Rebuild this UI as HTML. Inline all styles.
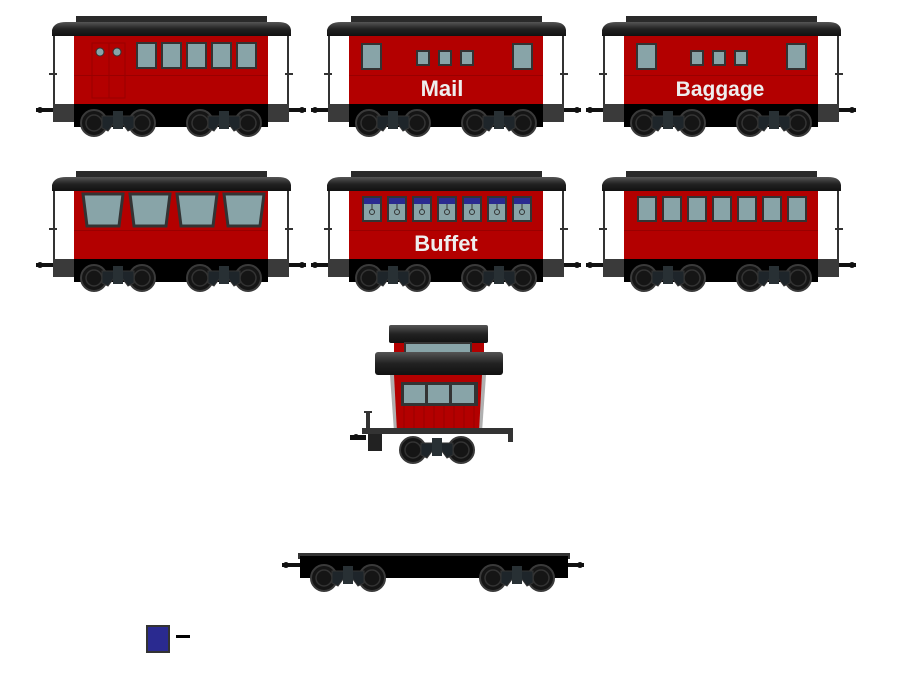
<!DOCTYPE html>
<html><head><style>html,body{margin:0;padding:0;background:#fff}svg{display:block}</style></head><body>
<svg width="900" height="689" viewBox="0 0 900 689" xmlns="http://www.w3.org/2000/svg">
<defs>
<linearGradient id="roof" x1="0" y1="0" x2="0" y2="1"><stop offset="0" stop-color="#555"/><stop offset="0.5" stop-color="#222"/><stop offset="1" stop-color="#111"/></linearGradient>
<g id="truck">
<circle cx="0" cy="0" r="13" fill="#151515" stroke="#3a3a3a" stroke-width="2"/>
<circle cx="0" cy="0" r="8" fill="none" stroke="#333" stroke-width="1.5"/>
<circle cx="48" cy="0" r="13" fill="#151515" stroke="#3a3a3a" stroke-width="2"/>
<circle cx="48" cy="0" r="8" fill="none" stroke="#333" stroke-width="1.5"/>
<path d="M8,-7 L40,-7 L40,5 L34,8 L28,0 L20,0 L14,8 L8,5 Z" fill="#1e252a" stroke="#333" stroke-width="1"/>
<rect x="19" y="-12" width="10" height="18" fill="#283034"/>
</g>
<g id="car">
<rect x="76" y="16" width="191" height="6" fill="#2a2a2a"/>
<path d="M52,36 L52,30 Q54,22 66,22 L278,22 Q290,22 291,30 L291,36 Z" fill="url(#roof)"/>
<rect x="53" y="36" width="21" height="70" fill="#fff"/>
<rect x="268" y="36" width="21" height="70" fill="#fff"/>
<rect x="53" y="36" width="2" height="70" fill="#333"/>
<rect x="287" y="36" width="2" height="70" fill="#333"/>
<rect x="49" y="73" width="8" height="2" fill="#333"/>
<rect x="285" y="73" width="8" height="2" fill="#333"/>
<rect x="74" y="36" width="194" height="70" fill="#b30000"/>
<rect x="74" y="75" width="194" height="1" fill="#990000"/>
<rect x="53" y="104" width="236" height="9" fill="#333"/>
<rect x="53" y="104" width="21" height="18" fill="#3a3a3a"/>
<rect x="268" y="104" width="21" height="18" fill="#3a3a3a"/>
<rect x="74" y="104" width="194" height="23" fill="#000"/>
<rect x="36" y="108" width="17" height="4" fill="#111"/>
<circle cx="40" cy="110" r="3" fill="#111"/>
<rect x="289" y="108" width="17" height="4" fill="#111"/>
<circle cx="302" cy="110" r="3" fill="#111"/>
<use href="#truck" x="94" y="123"/>
<use href="#truck" x="200" y="123"/>
</g>
<g id="w7"><rect x="0" y="0" width="20" height="26" fill="#333"/><rect x="2" y="2" width="16" height="22" fill="#88a4a8"/></g>
<g id="bw"><rect x="0" y="0" width="21" height="27" fill="#333"/><rect x="2" y="2" width="17" height="23" fill="#88a4a8"/></g>
<g id="sw"><rect x="0" y="0" width="14" height="16" fill="#333"/><rect x="2" y="2" width="10" height="12" fill="#88a4a8"/></g>
<g id="fw"><rect x="0" y="0" width="20" height="26" fill="#333"/><rect x="2" y="2" width="16" height="22" fill="#88a4a8"/><rect x="2" y="2" width="16" height="6" fill="#2a2a90"/><line x1="10" y1="8" x2="10" y2="14" stroke="#333"/><circle cx="10" cy="16" r="2.5" fill="none" stroke="#333"/></g>
</defs>

<!-- car 1 -->
<use href="#car"/>
<rect x="92" y="43" width="17" height="55" fill="none" stroke="#900" stroke-width="1"/>
<rect x="109" y="43" width="16" height="55" fill="none" stroke="#900" stroke-width="1"/>
<circle cx="100" cy="52" r="4" fill="#88a4a8" stroke="#333"/>
<circle cx="117" cy="52" r="4" fill="#88a4a8" stroke="#333"/>
<use href="#bw" x="136" y="42"/><use href="#bw" x="161" y="42"/><use href="#bw" x="186" y="42"/><use href="#bw" x="211" y="42"/><use href="#bw" x="236" y="42"/>

<!-- car 2 -->
<use href="#car" x="275"/>
<use href="#bw" x="361" y="43"/><use href="#bw" x="512" y="43"/>
<use href="#sw" x="416" y="50"/><use href="#sw" x="438" y="50"/><use href="#sw" x="460" y="50"/>
<text x="442" y="96" font-family="Liberation Sans, sans-serif" font-weight="bold" font-size="22" fill="#eee" text-anchor="middle">Mail</text>

<!-- car 3 -->
<use href="#car" x="550"/>
<use href="#bw" x="636" y="43"/><use href="#bw" x="786" y="43"/>
<use href="#sw" x="690" y="50"/><use href="#sw" x="712" y="50"/><use href="#sw" x="734" y="50"/>
<text x="720" y="96" font-family="Liberation Sans, sans-serif" font-weight="bold" font-size="21" fill="#eee" text-anchor="middle">Baggage</text>

<!-- car 4 -->
<use href="#car" y="155"/>
<g fill="#88a4a8" stroke="#333" stroke-width="3">
<path d="M83,194 L123,194 L119,226 L87,226 Z"/><path d="M130,194 L170,194 L166,226 L134,226 Z"/><path d="M177,194 L217,194 L213,226 L181,226 Z"/><path d="M224,194 L264,194 L260,226 L228,226 Z"/>
</g>

<!-- car 5 -->
<use href="#car" x="275" y="155"/>
<use href="#fw" x="362" y="196"/><use href="#fw" x="387" y="196"/><use href="#fw" x="412" y="196"/><use href="#fw" x="437" y="196"/><use href="#fw" x="462" y="196"/><use href="#fw" x="487" y="196"/><use href="#fw" x="512" y="196"/>
<text x="446" y="251" font-family="Liberation Sans, sans-serif" font-weight="bold" font-size="22" fill="#eee" text-anchor="middle">Buffet</text>

<!-- car 6 -->
<use href="#car" x="550" y="155"/>
<use href="#w7" x="637" y="196"/><use href="#w7" x="662" y="196"/><use href="#w7" x="687" y="196"/><use href="#w7" x="712" y="196"/><use href="#w7" x="737" y="196"/><use href="#w7" x="762" y="196"/><use href="#w7" x="787" y="196"/>

<!-- caboose -->
<rect x="389" y="325" width="99" height="18" rx="2" fill="url(#roof)"/>
<rect x="394" y="343" width="90" height="16" fill="#b30000"/>
<rect x="404" y="342" width="68" height="15" fill="#333"/><rect x="406" y="344" width="64" height="11" fill="#88a4a8"/>
<rect x="375" y="352" width="128" height="23" rx="3" fill="url(#roof)"/>
<path d="M390,375 L486,375 L482,432 L394,432 Z" fill="#b0b0b0"/>
<path d="M394,375 L482,375 L479,432 L397,432 Z" fill="#b30000"/>
<g stroke="#900" stroke-width="1"><line x1="404" y1="405" x2="404" y2="431"/><line x1="414" y1="405" x2="414" y2="431"/><line x1="424" y1="405" x2="424" y2="431"/><line x1="434" y1="405" x2="434" y2="431"/><line x1="444" y1="405" x2="444" y2="431"/><line x1="454" y1="405" x2="454" y2="431"/><line x1="464" y1="405" x2="464" y2="431"/><line x1="474" y1="405" x2="474" y2="431"/></g>
<rect x="401" y="382" width="77" height="24" fill="#333"/>
<rect x="404" y="385" width="21" height="18" fill="#88a4a8"/><rect x="428" y="385" width="21" height="18" fill="#88a4a8"/><rect x="452" y="385" width="22" height="18" fill="#88a4a8"/>
<rect x="362" y="428" width="151" height="6" fill="#333"/>
<rect x="508" y="428" width="5" height="14" fill="#333"/>
<rect x="366" y="412" width="4" height="20" fill="#333"/>
<rect x="364" y="411" width="8" height="2" fill="#333"/>
<rect x="368" y="434" width="14" height="17" fill="#222"/>
<rect x="350" y="435" width="16" height="5" fill="#111"/><circle cx="356" cy="437" r="3" fill="#111"/>
<use href="#truck" x="413" y="450"/>

<!-- flatcar -->
<rect x="298" y="553" width="272" height="6" fill="#333"/>
<rect x="300" y="556" width="268" height="22" fill="#000"/>
<rect x="282" y="563" width="18" height="4" fill="#111"/><circle cx="286" cy="565" r="3" fill="#111"/>
<rect x="568" y="563" width="16" height="4" fill="#111"/><circle cx="580" cy="565" r="3" fill="#111"/>
<use href="#truck" x="324" y="578"/>
<use href="#truck" x="493" y="578"/>

<!-- swatch -->
<rect x="147" y="626" width="22" height="26" fill="#2a2a90" stroke="#333" stroke-width="2"/>
<rect x="176" y="635" width="14" height="3" fill="#000"/>
</svg>
</body></html>
